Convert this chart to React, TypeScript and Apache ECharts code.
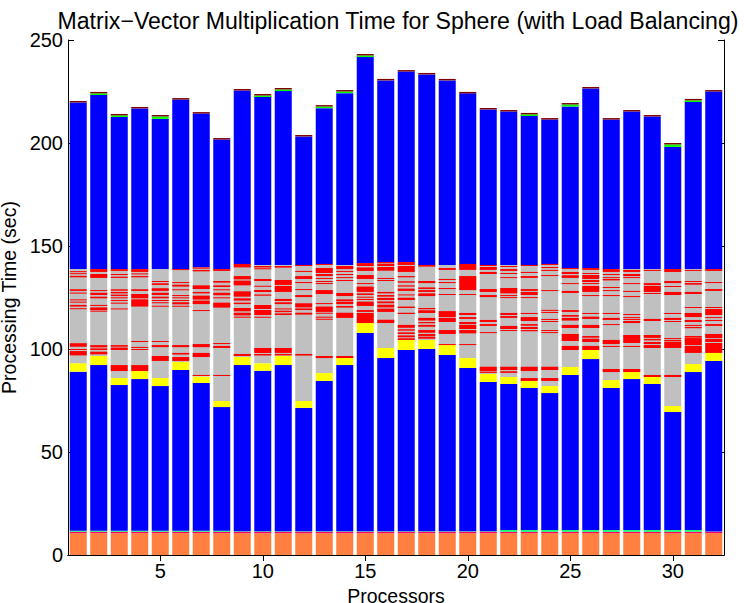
import React, { useEffect, useRef } from "react";
import * as echarts from "echarts";

const processors = ["1","2","3","4","5","6","7","8","9","10","11","12","13","14","15","16","17","18","19","20","21","22","23","24","25","26","27","28","29","30","31","32"];

const orangeBase = [10.6,10.6,10.6,10.6,10.6,10.6,10.6,10.6,10.6,10.6,10.6,10.6,10.6,10.6,10.6,10.6,10.6,10.6,10.6,10.6,10.6,10.6,10.6,10.6,10.6,10.6,10.6,10.6,10.6,10.6,10.6,10.6];
const magentaLine = [0.7,0.7,0.7,0.7,0.7,0.7,0.7,0.7,0.7,0.7,0.7,0.7,0.7,0.7,0.7,0.7,0.7,0.7,0.7,0.7,0.7,0.7,0.7,0.7,0.7,0.7,0.7,0.7,0.7,0.7,0.7,0.7];
const greenLine = [0.5,0.5,0.5,0.5,0.5,0.5,0.5,0.5,0.2,0.2,0.2,0.2,0.2,0.2,0.2,0.2,0.2,0.2,0.2,0.2,0.2,0.8,0.8,0.8,0.8,0.8,0.8,0.8,0.8,0.8,0.8,0.1];
const blueLowTop = [89.0,92.2,82.5,85.4,82.0,89.8,83.5,71.8,92.2,89.5,92.2,71.4,84.5,92.2,107.8,95.6,99.5,100.0,97.1,90.8,84.0,83.0,81.1,78.6,87.4,95.1,81.1,85.4,83.0,69.4,88.8,94.2];
const yellowTop = [93.1,96.6,85.9,89.3,85.9,93.7,86.6,74.8,96.1,93.1,96.6,74.8,88.3,95.6,112.6,100.5,104.4,104.4,101.9,95.6,87.9,86.4,84.5,82.0,91.3,99.5,84.9,88.8,86.4,72.3,92.7,98.1];
const grayTop = [138.8,138.8,138.8,138.8,138.8,138.8,139.7,138.8,141.3,140.8,140.8,140.8,141.3,140.8,141.7,142.2,142.2,140.8,140.8,141.3,140.8,140.8,140.8,141.3,139.3,139.3,138.8,138.8,138.8,138.8,138.8,138.8];
const barTop = [220.4,224.8,214.1,217.5,213.6,221.8,215.0,202.4,226.2,223.8,226.7,203.9,218.4,225.7,243.2,231.1,235.4,234.0,231.1,224.8,217.0,216.0,214.6,212.1,219.4,227.2,212.1,216.0,213.6,200.0,221.4,225.7];
const greenCap = [0,0.8,0.8,0,1.2,0,0,0,0,0.8,0.8,0,0.8,0.8,0.8,0,0,0,0,0,0,0,0.8,0,1.0,0,0,0,0,1.2,0.8,0];
const darkRedCap = [0.7,0.7,0.7,0.7,0.7,0.7,0.7,0.7,0.7,0.7,0.7,0.7,0.7,0.7,0.7,0.7,0.7,0.7,0.7,0.7,0.7,0.7,0.7,0.7,0.7,0.7,0.7,0.7,0.7,0.7,0.7,0.7];

// red stripes inside the gray band, [low, high] per processor
const redStripes: number[][][] = [
  [[137.3,137.8],[136.4,136.8],[134.8,135.5],[128.2,129.0],[126.9,127.4],[123.8,124.1],[122.6,123.0],[120.6,121.4],[119.4,119.8],[101.1,102.8],[99.5,100.0],[96.9,99.0]],
  [[137.4,138.8],[134.5,136.4],[128.2,128.6],[126.2,127.3],[124.6,125.4],[120.9,121.4],[118.9,120.2],[118.3,118.6],[100.8,101.9],[99.5,100.3],[97.4,98.7]],
  [[137.9,138.8],[135.9,136.4],[134.5,135.1],[128.3,129.0],[127.0,127.7],[125.7,126.4],[124.6,125.1],[123.5,123.8],[122.0,122.5],[119.4,119.7],[101.1,101.9],[99.5,100.7],[89.3,92.2]],
  [[137.4,138.8],[136.2,136.7],[134.8,135.4],[128.2,129.0],[124.6,126.7],[120.6,124.1],[103.4,103.9],[100.5,101.0],[99.5,100.0],[89.3,92.2]],
  [[132.5,133.0],[131.1,131.9],[128.2,129.5],[126.2,127.3],[124.6,125.4],[123.3,123.8],[122.2,122.7],[120.6,121.0],[103.4,103.9],[100.9,101.9],[94.2,96.6]],
  [[138.4,138.8],[132.0,132.5],[130.3,131.2],[128.6,129.0],[125.7,126.2],[124.6,125.1],[123.3,123.8],[121.7,122.7],[120.6,121.0],[100.9,101.9],[97.3,98.1],[94.2,96.1]],
  [[139.0,139.6],[137.7,138.4],[129.1,130.9],[127.0,127.7],[124.0,125.9],[121.8,123.5],[118.5,118.9],[100.9,102.4],[96.1,98.1],[86.9,87.4]],
  [[137.9,138.8],[132.2,133.0],[130.1,130.9],[128.5,129.0],[126.1,127.3],[124.6,125.1],[120.1,122.5],[102.4,102.9],[100.5,101.5],[86.9,87.4]],
  [[139.6,141.3],[133.8,135.4],[130.9,133.2],[125.4,128.0],[123.5,124.6],[121.8,122.5],[118.3,119.9],[116.3,117.6],[115.2,115.7],[96.6,97.6]],
  [[139.6,140.3],[138.8,139.2],[133.0,134.0],[130.3,130.7],[127.7,128.6],[125.9,126.4],[119.4,121.4],[116.5,118.9],[115.2,115.7],[98.1,100.5],[96.9,97.6]],
  [[139.5,140.3],[131.1,133.5],[127.7,130.6],[123.3,124.3],[121.8,122.7],[119.3,119.7],[117.9,118.6],[116.5,117.3],[98.1,100.5],[96.9,97.6]],
  [[140.3,140.8],[137.4,137.9],[134.0,135.4],[132.0,132.5],[128.6,129.1],[125.2,126.2],[120.2,122.2],[118.9,119.7],[116.7,117.6],[96.8,97.6]],
  [[140.8,141.3],[136.9,139.3],[135.4,136.4],[134.0,134.5],[132.5,133.0],[131.6,132.0],[126.7,128.6],[121.8,122.3],[118.0,120.6],[117.2,117.6],[115.2,115.7],[114.2,114.7],[95.6,96.6]],
  [[138.8,140.3],[137.4,137.9],[135.9,136.4],[134.5,134.9],[133.0,133.5],[125.7,127.2],[123.3,124.1],[121.8,123.0],[120.1,120.9],[115.1,117.6],[95.6,96.6]],
  [[140.3,141.7],[137.9,139.6],[134.0,135.9],[131.6,132.0],[127.7,130.3],[126.2,127.0],[124.9,125.4],[123.8,124.3],[120.9,123.0],[118.0,118.9],[112.6,117.5]],
  [[141.6,142.2],[140.3,141.3],[138.0,139.8],[134.0,134.5],[133.0,133.5],[127.0,127.7],[125.4,126.2],[123.8,124.8],[122.2,123.1],[120.2,121.5],[118.0,119.6],[112.6,114.2]],
  [[140.8,142.2],[137.4,140.3],[134.8,135.4],[132.2,132.9],[130.3,130.9],[128.2,129.3],[126.1,126.5],[123.8,124.9],[119.9,120.6],[117.0,117.6],[110.3,111.7],[108.9,109.6],[107.3,108.1],[105.7,106.6],[104.4,105.2]],
  [[140.0,140.8],[132.0,133.0],[129.1,129.9],[127.7,128.6],[125.7,127.0],[119.3,119.9],[117.5,118.8],[113.8,115.1],[112.5,113.1],[110.8,111.7],[107.9,109.2],[106.3,107.3],[105.0,106.0]],
  [[138.4,139.3],[133.5,134.0],[132.0,132.5],[129.1,129.6],[126.2,126.7],[115.5,118.4],[113.1,115.1],[107.3,109.2],[101.9,102.4]],
  [[138.4,141.3],[128.6,135.4],[126.2,126.7],[116.5,117.5],[114.6,115.5],[112.1,113.1],[109.7,111.7],[107.6,109.2],[101.9,102.4]],
  [[140.3,140.8],[138.4,139.8],[136.4,137.4],[127.7,129.1],[125.2,126.2],[113.1,114.1],[111.2,112.1],[107.8,108.2],[89.3,91.4],[88.4,89.0]],
  [[139.8,140.3],[137.9,138.8],[136.4,136.9],[134.5,134.9],[127.0,129.6],[125.7,126.2],[124.8,125.2],[116.5,117.5],[115.1,116.0],[109.7,111.2],[108.8,109.2],[89.8,91.4],[88.4,89.2]],
  [[140.3,140.8],[136.9,137.4],[134.5,135.4],[128.2,129.1],[126.2,127.7],[124.8,125.2],[117.0,117.5],[113.6,115.5],[111.3,112.1],[109.7,110.7],[108.6,109.2],[89.3,91.4],[84.5,85.9]],
  [[140.8,141.3],[139.3,139.8],[137.9,138.4],[135.4,135.9],[128.2,128.6],[118.5,119.0],[117.5,118.0],[114.1,114.6],[113.1,113.6],[108.8,109.2],[107.8,108.2],[89.8,91.4],[84.5,85.9]],
  [[138.8,139.3],[136.4,137.4],[134.5,135.8],[131.6,132.0],[127.2,128.2],[118.0,118.9],[115.7,116.5],[113.8,115.1],[110.2,111.7],[103.9,107.3],[99.5,101.5]],
  [[138.4,139.3],[136.4,136.9],[134.0,135.9],[132.5,133.5],[131.6,132.0],[127.7,130.6],[125.7,126.2],[117.0,117.5],[114.6,115.7],[110.2,111.7],[105.5,106.3],[103.4,105.0],[99.5,101.5]],
  [[137.4,138.8],[135.9,136.4],[134.5,134.9],[133.3,134.0],[129.6,130.1],[128.2,128.6],[125.7,126.2],[117.0,117.5],[114.1,115.1],[111.7,112.1],[102.4,104.4],[101.0,101.5],[88.8,90.3]],
  [[137.4,138.4],[135.4,136.4],[134.5,134.9],[131.6,132.0],[127.7,128.2],[125.2,125.7],[116.5,117.0],[115.1,115.5],[114.1,114.6],[112.6,113.6],[102.9,106.8],[101.0,101.5],[88.8,90.3]],
  [[137.9,138.4],[131.0,132.0],[127.7,130.6],[126.7,127.2],[113.6,114.6],[105.4,106.8],[104.2,104.9],[102.4,103.4],[100.5,101.9],[86.4,87.4]],
  [[137.4,138.8],[132.0,133.0],[130.1,130.6],[126.2,127.7],[117.0,117.5],[114.1,115.1],[113.1,113.6],[104.9,105.3],[103.7,104.4],[100.5,103.4],[86.4,87.4]],
  [[137.9,138.4],[132.5,133.0],[131.2,132.0],[126.7,127.7],[119.9,120.4],[115.5,117.5],[113.1,114.1],[111.2,111.7],[110.1,110.7],[105.5,106.3],[101.9,105.3],[98.1,101.5]],
  [[137.9,138.8],[132.0,132.5],[128.2,129.1],[119.9,120.4],[116.5,119.4],[115.1,115.5],[113.6,114.1],[111.2,112.1],[105.3,107.3],[103.4,104.9],[98.1,102.9]],
];

const FONT = "Liberation Sans, Arial, Helvetica, sans-serif";

export default function App() {
  const ref = useRef<HTMLDivElement>(null);
  useEffect(() => {
    if (!ref.current) return;
    const chart = echarts.init(ref.current, undefined, { renderer: "svg" });
    const lowBase = processors.map((_, i) => orangeBase[i] + magentaLine[i] + greenLine[i]);
    const blueLow = processors.map((_, i) => +(blueLowTop[i] - lowBase[i]).toFixed(2));
    const yellow = processors.map((_, i) => +(yellowTop[i] - blueLowTop[i]).toFixed(2));
    const gray = processors.map((_, i) => +(grayTop[i] - yellowTop[i]).toFixed(2));
    const blueHigh = processors.map((_, i) => +(barTop[i] - greenCap[i] - darkRedCap[i] - grayTop[i]).toFixed(2));

    const layers: [string, number[], string][] = [
      ["orange", orangeBase, "#FF8040"],
      ["magenta", magentaLine, "#FF0066"],
      ["greenLow", greenLine, "#00FF66"],
      ["blueLow", blueLow, "#0000FF"],
      ["yellow", yellow, "#FFFF00"],
      ["gray", gray, "#C0C0C0"],
      ["blueHigh", blueHigh, "#0000FF"],
      ["greenCap", greenCap, "#00FF00"],
      ["darkRedCap", darkRedCap, "#800000"],
    ];

    const stripeData: number[][] = [];
    redStripes.forEach((list, i) => list.forEach(([lo, hi]) => stripeData.push([i, lo, hi])));

    const tickInterval = (i: number) => (i + 1) % 5 === 0;

    const series: any[] = layers.map(([name, data, color]) => ({
      name,
      type: "bar",
      stack: "all",
      data,
      barWidth: "83%",
      itemStyle: { color },
      silent: true,
      z: 2,
    }));
    series.push({
      type: "custom",
      name: "red",
      data: stripeData,
      encode: { x: 0, y: [1, 2] },
      z: 3,
      silent: true,
      renderItem: (params: any, api: any) => {
        const x = api.value(0);
        const lo = api.value(1);
        const hi = api.value(2);
        const p0 = api.coord([x, lo]);
        const p1 = api.coord([x, hi]);
        const w = api.size([1, 0])[0] * 0.83;
        return {
          type: "rect",
          shape: { x: p0[0] - w / 2, y: p1[1], width: w, height: Math.max(p0[1] - p1[1], 1) },
          style: { fill: "#FF0000" },
        };
      },
    });

    const axisLine = { show: true, lineStyle: { color: "#000", width: 1 } };
    chart.setOption({
      animation: false,
      backgroundColor: "#fff",
      title: {
        text: "Matrix\u2212Vector Multiplication Time for Sphere (with Load Balancing)",
        left: 393,
        textAlign: "center",
        top: 4,
        textStyle: { fontFamily: FONT, fontSize: 23.1, fontWeight: "normal", color: "#000" },
      },
      grid: { left: 68, right: 20, top: 40, bottom: 48, containLabel: false, outerBoundsMode: "none" },
      xAxis: [
        {
          type: "category",
          data: processors,
          position: "bottom",
          axisLine,
          axisTick: { show: true, inside: true, alignWithLabel: true, interval: tickInterval, length: 6, lineStyle: { color: "#000" } },
          axisLabel: { interval: tickInterval, color: "#000", fontSize: 20, fontFamily: FONT, margin: 6 },
          splitLine: { show: false },
          name: "Processors",
          nameLocation: "middle",
          nameGap: 22,
          nameTextStyle: { color: "#000", fontSize: 19.5, fontFamily: FONT, lineHeight: 20 },
        },
        {
          type: "category",
          data: processors,
          position: "top",
          axisLine,
          axisTick: { show: true, inside: true, alignWithLabel: true, interval: tickInterval, length: 6, lineStyle: { color: "#000" } },
          axisLabel: { show: false },
          splitLine: { show: false },
        },
      ],
      yAxis: [
        {
          type: "value",
          min: 0,
          max: 250,
          interval: 50,
          position: "left",
          axisLine,
          axisTick: { show: true, inside: true, length: 6, lineStyle: { color: "#000" } },
          axisLabel: { color: "#000", fontSize: 20, fontFamily: FONT, margin: 5 },
          splitLine: { show: false },
          name: "Processing Time (sec)",
          nameLocation: "middle",
          nameGap: 40,
          nameTextStyle: { color: "#000", fontSize: 19.5, fontFamily: FONT, lineHeight: 20 },
        },
        {
          type: "value",
          min: 0,
          max: 250,
          interval: 50,
          position: "right",
          axisLine,
          axisTick: { show: true, inside: true, length: 6, lineStyle: { color: "#000" } },
          axisLabel: { show: false },
          splitLine: { show: false },
        },
      ],
      series,
    });
    return () => chart.dispose();
  }, []);
  return <div ref={ref} style={{ width: 744, height: 603, position: "absolute", left: 0, top: 0 }} />;
}
